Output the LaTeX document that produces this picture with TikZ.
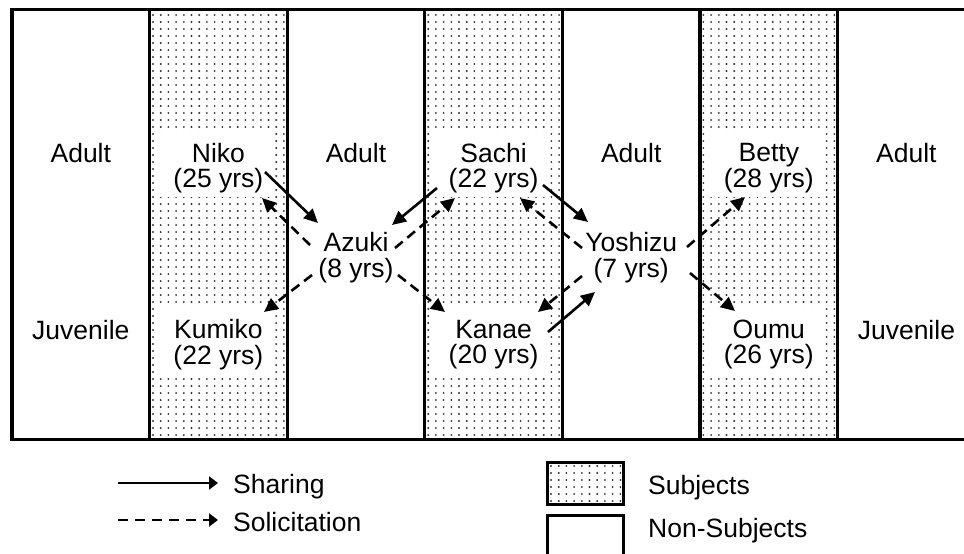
\documentclass[tikz,border=0pt]{standalone}
\usepackage{fontspec}
\setmainfont{Liberation Sans}
\usetikzlibrary{arrows.meta}
\tikzset{
  lbl/.style={font=\fontsize{26.5}{25.5}\selectfont, align=center, inner sep=0pt},
  arr/.style={line width=2.6pt, -{Triangle[length=14pt,width=13pt]}},
  share/.style={arr},
  solicit/.style={arr, dash pattern=on 10pt off 6pt},
  legshare/.style={line width=2.2pt, -{Triangle[length=9pt,width=13pt]}},
  legsolicit/.style={legshare, dash pattern=on 10pt off 7pt},
  frame/.style={line width=3.3pt},
  dotc/.style={fill=black!80},
  legbox/.style={draw, line width=3pt, minimum width=76pt, inner sep=0pt}
}
\begin{document}
\begin{tikzpicture}[x=1pt,y=-1pt]
\useasboundingbox (0,0) rectangle (964,554);
\clip (0,0) rectangle (964,554);
% stipple columns with white label panels
\foreach \c in {149.6,424.8,700}{
  \fill[dotc] \foreach \i in {0,...,17}{ \foreach \j in {0,...,60}{ ({\c+3.4+7.7*\i},{15+7*\j}) circle (1.05) } };
  \fill[white] ({\c+8},133) rectangle ({\c+124},197);
  \fill[white] ({\c+8},308) rectangle ({\c+124},373);
}
% frame
\draw[frame] (975,9.3) -- (12,9.3) -- (12,439.3) -- (975,439.3);
\foreach \x in {149.6,287.2,424.8,562.4,700,837.6}{
  \draw[frame] (\x,9.3) -- (\x,439.3);
}
% labels
\node[lbl, anchor=base] (adultA) at (80.8,162.5) {Adult};
\node[lbl, anchor=base] (juvA) at (80.8,339) {Juvenile};
\node[lbl, anchor=base] (adultB) at (356,162.5) {Adult};
\node[lbl, anchor=base] (adultC) at (631.2,162.5) {Adult};
\node[lbl, anchor=base] (adultD) at (906.4,162.5) {Adult};
\node[lbl, anchor=base] (juvD) at (906.4,339) {Juvenile};
\node[lbl] (niko) at (218.4,168) {Niko\\(25 yrs)};
\node[lbl] (kumiko) at (218.4,344.4) {Kumiko\\(22 yrs)};
\node[lbl] (azuki) at (356,257.4) {Azuki\\(8 yrs)};
\node[lbl] (sachi) at (493.6,168) {Sachi\\(22 yrs)};
\node[lbl] (kanae) at (493.6,344.4) {Kanae\\(20 yrs)};
\node[lbl] (yoshizu) at (631.2,257.4) {Yoshizu\\(7 yrs)};
\node[lbl] (betty) at (768.8,168) {Betty\\(28 yrs)};
\node[lbl] (oumu) at (768.8,344.4) {Oumu\\(26 yrs)};
% arrows
\draw[share] ([shift={(46.6,4)}]niko.center) -- ([shift={(-38,-34.4)}]azuki.center);
\draw[solicit] ([shift={(-46,-12.4)}]azuki.center) -- ([shift={(43.6,30)}]niko.center);
\draw[share] ([shift={(-56.6,20)}]sachi.center) -- ([shift={(36,-32.4)}]azuki.center);
\draw[solicit] ([shift={(39,-9.4)}]azuki.center) -- ([shift={(-38.6,30)}]sachi.center);
\draw[solicit] ([shift={(-44,17.6)}]azuki.center) -- ([shift={(45.6,-32.4)}]kumiko.center);
\draw[solicit] ([shift={(42,17.6)}]azuki.center) -- ([shift={(-48.6,-32.4)}]kanae.center);
\draw[share] ([shift={(49.4,17)}]sachi.center) -- ([shift={(-43.2,-35.4)}]yoshizu.center);
\draw[solicit] ([shift={(-49.2,-9.4)}]yoshizu.center) -- ([shift={(26.4,30)}]sachi.center);
\draw[solicit] ([shift={(-49.2,18.6)}]yoshizu.center) -- ([shift={(44.4,-32.4)}]kanae.center);
\draw[share] ([shift={(54.4,-12.4)}]kanae.center) -- ([shift={(-36.2,34.6)}]yoshizu.center);
\draw[solicit] ([shift={(55.8,-10.4)}]yoshizu.center) -- ([shift={(-23.8,29)}]betty.center);
\draw[solicit] ([shift={(58.8,15.6)}]yoshizu.center) -- ([shift={(-33.8,-33.4)}]oumu.center);
% legend: arrows
\coordinate (shA) at (118,483);
\coordinate (shB) at (218,483);
\coordinate (soA) at (118,520);
\coordinate (soB) at (218,520);
\draw[legshare] (shA) -- (shB);
\draw[legsolicit] (soA) -- (soB);
\node[lbl, anchor=base west] (sharing) at (233,493) {Sharing};
\node[lbl, anchor=base west] (solicitation) at (233,531) {Solicitation};
% legend: boxes
\fill[dotc] \foreach \i in {0,...,9}{ \foreach \j in {0,...,5}{ ({551+7.7*\i},{466+7*\j}) circle (1.05) } };
\node[legbox, minimum height=42pt] (subjbox) at (585,483) {};
\node[legbox, minimum height=60pt] (nonsubjbox) at (585,545) {};
\node[lbl, anchor=base west] (subjects) at (648,494) {Subjects};
\node[lbl, anchor=base west] (nonsubjects) at (648,537) {Non-Subjects};
\end{tikzpicture}
\end{document}
